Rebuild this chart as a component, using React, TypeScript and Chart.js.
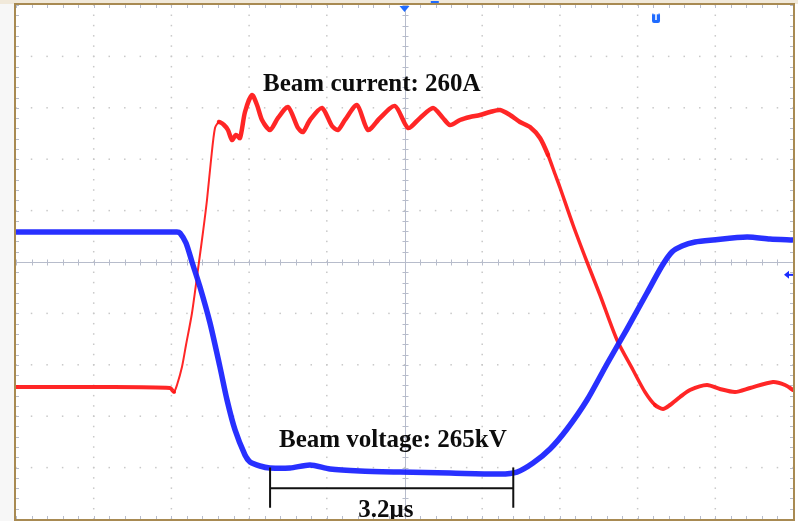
import React, { useEffect, useRef } from "react";
import { Chart, registerables } from "chart.js";

Chart.register(...registerables);

// Time axis in divisions (≈1 µs/div), vertical in divisions
const voltageTime = [0, 1.081, 2.072, 2.11, 2.188, 2.265, 2.368, 2.497, 2.625, 2.716, 2.819, 2.947, 3.012, 3.14, 3.269, 3.526, 3.784, 4.041, 4.427, 4.942, 5.586, 6.229, 6.448, 6.654, 6.873, 7.092, 7.349, 7.606, 7.863, 8.12, 8.313, 8.442, 8.571, 8.74, 8.97, 9.408, 9.704, 10];
const voltageDiv = [0.584, 0.584, 0.584, 0.565, 0.37, 0.0, -0.487, -1.187, -2.043, -2.685, -3.268, -3.755, -3.891, -3.969, -4.008, -4.008, -3.949, -4.027, -4.066, -4.086, -4.105, -4.125, -4.086, -3.911, -3.638, -3.249, -2.685, -1.984, -1.304, -0.603, -0.078, 0.195, 0.311, 0.389, 0.428, 0.486, 0.447, 0.428];

const currentTime = [0, 1.081, 1.982, 2.033, 2.072, 2.136, 2.188, 2.265, 2.355, 2.407, 2.458, 2.51, 2.561, 2.613, 2.677, 2.728, 2.78, 2.831, 2.883, 2.947, 3.037, 3.102, 3.166, 3.269, 3.372, 3.501, 3.629, 3.694, 3.784, 3.938, 4.067, 4.144, 4.234, 4.389, 4.53, 4.685, 4.878, 5.045, 5.2, 5.367, 5.495, 5.586, 5.714, 5.843, 5.972, 6.1, 6.229, 6.358, 6.486, 6.615, 6.744, 6.847, 6.937, 7.001, 7.169, 7.349, 7.516, 7.735, 7.941, 8.095, 8.224, 8.327, 8.417, 8.546, 8.674, 8.893, 9.06, 9.254, 9.447, 9.743, 9.897, 10];
const currentDiv = [-2.432, -2.432, -2.451, -2.529, -2.393, -2.043, -1.615, -0.992, 0.0, 0.584, 1.206, 1.984, 2.607, 2.724, 2.665, 2.568, 2.374, 2.471, 2.412, 2.918, 3.249, 3.054, 2.763, 2.568, 2.802, 3.016, 2.608, 2.529, 2.763, 2.996, 2.646, 2.568, 2.763, 3.054, 2.568, 2.802, 3.035, 2.608, 2.802, 2.996, 2.802, 2.665, 2.763, 2.821, 2.86, 2.918, 2.957, 2.86, 2.724, 2.626, 2.412, 2.082, 1.712, 1.45, 0.72, 0.0, -0.642, -1.518, -2.101, -2.529, -2.782, -2.86, -2.782, -2.626, -2.49, -2.393, -2.471, -2.529, -2.451, -2.335, -2.393, -2.49];

// Annotation values (in divisions)
const pulseStart = 3.27;
const pulseEnd = 6.4;
const currentLabel = "Beam current: 260A";
const voltageLabel = "Beam voltage: 265kV";
const widthLabel = "3.2μs";

const toPoints = (xs: number[], ys: number[]) => xs.map((x, i) => ({ x, y: ys[i] }));

const scopePlugin = {
  id: "scope",
  beforeDraw(chart: any) {
    const { ctx, width, height, chartArea } = chart;
    ctx.save();
    ctx.fillStyle = "#ffffff";
    ctx.fillRect(0, 0, width, height);
    ctx.fillStyle = "#f7f7f7";
    ctx.fillRect(0, 0, chartArea.left - 1, height);
    ctx.fillStyle = "#f1e9da";
    ctx.fillRect(0, 0, width, chartArea.top - 1);
    ctx.fillStyle = "#8a7a50";
    ctx.fillRect(26, 3, 24, 2);
    ctx.fillRect(720, 3, 52, 2);
    ctx.restore();
  },
  beforeDatasetsDraw(chart: any) {
    const { ctx, chartArea } = chart;
    const xs = chart.scales.x;
    const ys = chart.scales.y;
    const { left, right, top, bottom } = chartArea;
    ctx.save();
    ctx.fillStyle = "#c8c8c8";
    for (let i = 1; i < 10; i++) {
      if (i === 5) continue;
      const px = xs.getPixelForValue(i);
      for (let k = 0; k <= 50; k++) {
        const py = ys.getPixelForValue(-5 + k * 0.2);
        ctx.fillRect(px - 0.75, py - 0.75, 1.5, 1.5);
      }
    }
    for (let j = -4; j <= 4; j++) {
      if (j === 0) continue;
      const py = ys.getPixelForValue(j);
      for (let k = 0; k <= 50; k++) {
        const px = xs.getPixelForValue(k * 0.2);
        ctx.fillRect(px - 0.75, py - 0.75, 1.5, 1.5);
      }
    }
    ctx.strokeStyle = "#b7bccb";
    ctx.lineWidth = 1;
    const cx = Math.round(xs.getPixelForValue(5)) + 0.5;
    const cy = Math.round(ys.getPixelForValue(0)) + 0.5;
    ctx.beginPath();
    ctx.moveTo(left, cy);
    ctx.lineTo(right, cy);
    ctx.moveTo(cx, top);
    ctx.lineTo(cx, bottom);
    for (let k = 0; k <= 50; k++) {
      const px = Math.round(xs.getPixelForValue(k * 0.2)) + 0.5;
      ctx.moveTo(px, cy - 3);
      ctx.lineTo(px, cy + 3);
      const py = Math.round(ys.getPixelForValue(-5 + k * 0.2)) + 0.5;
      ctx.moveTo(cx - 3, py);
      ctx.lineTo(cx + 3, py);
      ctx.moveTo(px, bottom);
      ctx.lineTo(px, bottom - 3);
      ctx.moveTo(px, top);
      ctx.lineTo(px, top + 3);
      ctx.moveTo(left, py);
      ctx.lineTo(left + 3, py);
      ctx.moveTo(right, py);
      ctx.lineTo(right - 3, py);
    }
    ctx.stroke();
    ctx.restore();
  },
  afterDatasetsDraw(chart: any) {
    const { ctx, chartArea } = chart;
    const xs = chart.scales.x;
    const ys = chart.scales.y;
    const { left, right, top, bottom } = chartArea;
    ctx.save();
    ctx.fillStyle = "#0d0d0d";
    ctx.textAlign = "center";
    ctx.textBaseline = "middle";
    ctx.font = 'bold 25px "Liberation Serif", "Times New Roman", serif';
    ctx.fillText(currentLabel, xs.getPixelForValue(4.58), ys.getPixelForValue(3.46));
    ctx.fillText(voltageLabel, xs.getPixelForValue(4.85), ys.getPixelForValue(-3.48));
    ctx.fillText(widthLabel, xs.getPixelForValue(4.76), ys.getPixelForValue(-4.84));
    const x1 = xs.getPixelForValue(pulseStart);
    const x2 = xs.getPixelForValue(pulseEnd);
    const yTop = ys.getPixelForValue(-4.0);
    const yMid = ys.getPixelForValue(-4.4);
    const yBot = ys.getPixelForValue(-4.78);
    ctx.strokeStyle = "#111111";
    ctx.lineWidth = 2;
    ctx.beginPath();
    ctx.moveTo(x1, yTop);
    ctx.lineTo(x1, yBot);
    ctx.moveTo(x2, yTop);
    ctx.lineTo(x2, yBot);
    ctx.moveTo(x1, yMid);
    ctx.lineTo(x2, yMid);
    ctx.stroke();
    ctx.fillStyle = "#1f6bff";
    const tx = xs.getPixelForValue(5);
    ctx.beginPath();
    ctx.moveTo(tx - 5, top + 1);
    ctx.lineTo(tx + 5, top + 1);
    ctx.lineTo(tx, top + 7);
    ctx.closePath();
    ctx.fill();
    ctx.fillRect(xs.getPixelForValue(5.39) - 4, 1, 8, 4);
    const mx = xs.getPixelForValue(8.237);
    ctx.beginPath();
    ctx.roundRect(mx - 4, top + 8, 8, 10, 2);
    ctx.fill();
    ctx.fillStyle = "#ffffff";
    ctx.font = 'bold 8px "DejaVu Sans", sans-serif';
    ctx.fillText("T", mx, top + 13);
    ctx.fillStyle = "#1a2cff";
    const ay = ys.getPixelForValue(-0.25);
    ctx.beginPath();
    ctx.moveTo(right - 9, ay);
    ctx.lineTo(right - 4, ay - 4);
    ctx.lineTo(right - 4, ay + 4);
    ctx.closePath();
    ctx.fill();
    ctx.fillRect(right - 5, ay - 1, 5, 2);
    ctx.strokeStyle = "#a88a52";
    ctx.lineWidth = 2;
    ctx.strokeRect(left - 1, top - 1, right - left + 2, bottom - top + 2);
    ctx.restore();
  },
};

export default function App() {
  const ref = useRef<HTMLCanvasElement | null>(null);
  useEffect(() => {
    if (!ref.current) return;
    const chart = new Chart(ref.current, {
      type: "line",
      data: {
        datasets: [
          {
            label: "Beam voltage",
            data: toPoints(voltageTime, voltageDiv),
            borderColor: "rgba(22,30,255,0.92)",
            borderWidth: 5.5,
            tension: 0.25,
            pointRadius: 0,
          },
          {
            label: "Beam current",
            data: toPoints(currentTime, currentDiv),
            borderColor: "rgba(255,20,20,0.92)",
            borderWidth: 4,
            tension: 0.25,
            pointRadius: 0,
            borderJoinStyle: "round",
            borderCapStyle: "round",
            segment: {
              borderWidth: (c: any) => {
                const x = c.p0.parsed.x;
                if (x > 2.0 && x < 2.6) return 2;
                if (x >= 2.6 && x < 6.8) return 4.5;
                if (x >= 6.8 && x < 8.1) return 3.5;
                return 4;
              },
            },
          },
        ],
      },
      options: {
        responsive: false,
        animation: false,
        layout: { padding: { left: 16, right: 5, top: 5, bottom: 2 } },
        scales: {
          x: { type: "linear", min: 0, max: 10, display: false },
          y: { type: "linear", min: -5, max: 5, display: false },
        },
        plugins: { legend: { display: false }, tooltip: { enabled: false } },
      } as any,
      plugins: [scopePlugin],
    });
    return () => chart.destroy();
  }, []);
  return (
    <div style={{ position: "absolute", left: 0, top: 0, width: 798, height: 521 }}>
      <canvas ref={ref} width={798} height={521} />
    </div>
  );
}
